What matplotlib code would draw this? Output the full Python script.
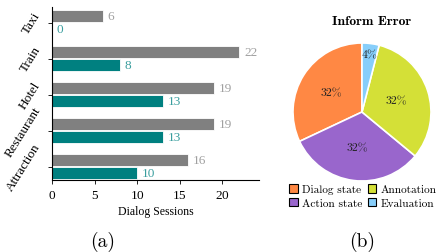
import numpy as np
import matplotlib
matplotlib.use("Agg")
import matplotlib.pyplot as plt

plt.rcParams['font.family'] = ['cmr10', 'DejaVu Serif']
plt.rcParams['mathtext.fontset'] = 'cm'
plt.rcParams['axes.formatter.use_mathtext'] = True

# (a) bar data, bottom to top
domains = ['Attraction', 'Restaurant', 'Hotel', 'Train', 'Taxi']
total = [16, 19, 19, 22, 6]
errors = [10, 13, 13, 8, 0]

# (b) pie data
pie_labels = ['Dialog state', 'Action state', 'Annotation', 'Evaluation']
pie_values = [8, 8, 8, 1]
pie_colors = ['#FF8844', '#9966CC', '#D4E037', '#87CEFA']

times = ['Liberation Serif', 'DejaVu Serif']

fig = plt.figure(figsize=(4.39, 2.53), dpi=100)

ax = fig.add_axes([0.1185, 0.2846, 0.4715, 0.684])
y = np.arange(len(domains))
h = 0.33
ax.barh(y + 0.03, total, height=h, align='edge', color='#808080', edgecolor='white', linewidth=0.6)
ax.barh(y - h, errors, height=h, align='edge', color='#008080', edgecolor='white', linewidth=0.6)
for i in range(len(domains)):
    ax.text(total[i] + 0.55, y[i] + 0.03 + h / 2, str(total[i]), va='center', ha='left',
            fontsize=9.5, color='#A0A0A0', family=times)
    ax.text(errors[i] + 0.55, y[i] - h / 2, str(errors[i]), va='center', ha='left',
            fontsize=9.5, color='#3A9E9E', family=times)
ax.set_xlim(0, 24.3)
ax.set_ylim(-0.36, 4.44)
ax.set_xticks([0, 5, 10, 15, 20])
ax.set_yticks(y)
ax.set_yticklabels(domains, rotation=58, ha='right', va='center')
ax.tick_params(labelsize=9.5, length=3, width=0.6)
for t in ax.get_xticklabels() + ax.get_yticklabels():
    t.set_family(times)
ax.spines['top'].set_visible(False)
ax.spines['right'].set_visible(False)
ax.set_xlabel('Dialog Sessions', fontsize=8.5, labelpad=3, family=times)

ax2 = fig.add_axes([(362 - 69) / 439, 1 - (113 + 69) / 253, 138 / 439, 138 / 253])
wedges, texts, autotexts = ax2.pie(pie_values, colors=pie_colors, startangle=90, counterclock=True,
                                   autopct='%d%%', pctdistance=0.52,
                                   wedgeprops=dict(edgecolor='white', linewidth=1.2),
                                   textprops=dict(fontsize=8.5, color='#222222'))
# small slice label sits further out
x, yy = autotexts[3].get_position()
autotexts[3].set_position((x * 1.62, yy * 1.62))
ax2.set_xlim(-1, 1)
ax2.set_ylim(-1, 1)
ax2.set_aspect('equal')

fig.text(372 / 439, 1 - 22 / 253, 'Inform Error', ha='center', va='center',
         fontsize=9.8, family='cmb10')
fig.legend(wedges, pie_labels, ncol=2, loc='center', bbox_to_anchor=(363 / 439, 1 - 197 / 253),
           fontsize=8.1, frameon=False, handlelength=0.75, handleheight=0.75, handletextpad=0.4,
           columnspacing=0.45, labelspacing=0.3, borderpad=0)
for p in fig.legends[0].get_patches():
    p.set_edgecolor('black')
    p.set_linewidth(0.8)

fig.text(103 / 439, 1 - 242 / 253, '(a)', ha='center', va='center', fontsize=14)
fig.text(362 / 439, 1 - 242 / 253, '(b)', ha='center', va='center', fontsize=14)

fig.savefig('out.png', dpi=100)
